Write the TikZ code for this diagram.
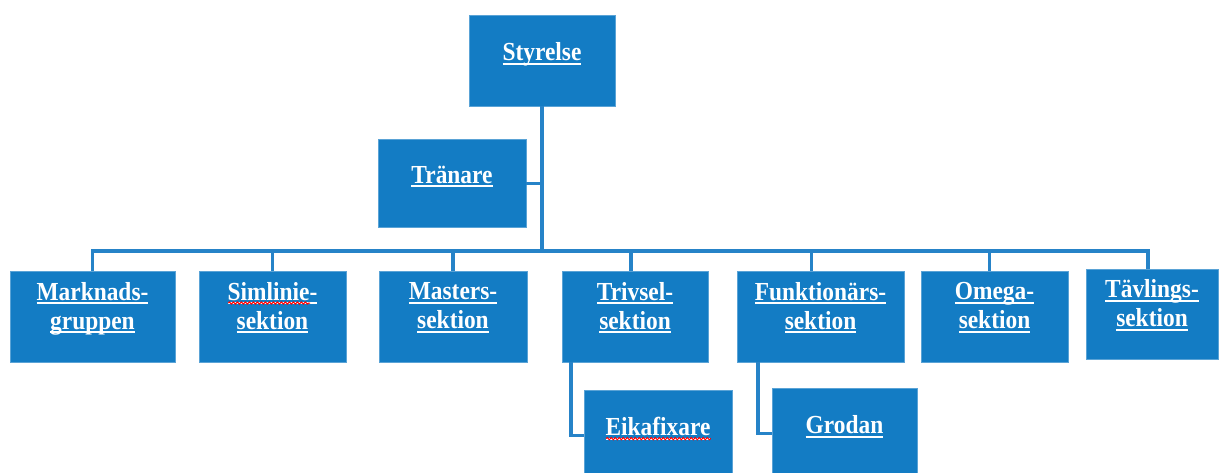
\documentclass[tikz,border=0pt]{standalone}
\usepackage{xcolor}
\usepackage{fontspec}
\setmainfont{Liberation Serif}
\newfontfamily\boxfont[FakeStretch=0.9]{Liberation Serif}
\usepackage{tikz}
\usetikzlibrary{decorations.pathmorphing}

\definecolor{orgblue}{RGB}{19,124,196}
\definecolor{lineblue}{RGB}{38,131,200}

\newcommand{\ulin}[1]{\setbox0\hbox{#1}\rlap{\rule[-4pt]{\wd0}{1.8pt}}\box0}
\newcommand{\wavy}[1]{\setbox0\hbox{#1}\rlap{\tikz[baseline=0pt]\draw[red,line width=1pt,decorate,decoration={snake,amplitude=1.1pt,segment length=4pt}] (0pt,-3pt) -- (\wd0,-3pt);}\box0}

\begin{document}
\begin{tikzpicture}[x=1pt,y=-1pt]
			\tikzstyle{box} = [fill=orgblue, draw=orgblue!70!white, thin, text=white, align=center, inner sep=0pt, minimum height=91pt, text depth=22pt, font=\boxfont\bfseries\fontsize{26}{29}\selectfont]
			\tikzstyle{single} = [text depth=18pt]
			\tikzset{edge/.style = {draw=lineblue, line width=3.5pt}}
			\useasboundingbox (0,0) rectangle (1221,472);
			\clip (0,0) rectangle (1221,472);
			
			\node[box, single, minimum width=146pt](styrelse) at (542,60.5) {\ulin{Styrelse}};
			\node[box, single, minimum width=148pt, minimum height=88pt](tranare) at (452,183.5) {\ulin{Tränare}};
			\coordinate (bar) at (542,251);
			
			\node[box, minimum width=165pt](marknads) at (92.5,316.5) {\ulin{Marknads-}\\\ulin{gruppen}};
			\node[box, minimum width=147pt](simlinie) at (272.5,316.5) {\ulin{\wavy{Simlinie}-}\\\ulin{sektion}};
			\node[box, minimum width=148pt](masters) at (453,316.5) {\ulin{Masters-}\\\ulin{sektion}};
			\node[box, minimum width=146pt](trivsel) at (635,316.5) {\ulin{Trivsel-}\\\ulin{sektion}};
			\node[box, minimum width=167pt](funktionar) at (820.5,316.5) {\ulin{Funktionärs-}\\\ulin{sektion}};
			\node[box, minimum width=147pt](omega) at (994.5,316.5) {\ulin{Omega-}\\\ulin{sektion}};
			\node[box, minimum width=132pt, minimum height=90pt](tavlings) at (1152,314) {\ulin{Tävlings-}\\\ulin{sektion}};
			
			\node[box, single, minimum width=148pt](eikafixare) at (658,435.5) {\ulin{\wavy{Eikafixare}}};
			\node[box, single, minimum width=145pt](grodan) at (844.5,433.5) {\ulin{Grodan}};
			
			\draw[edge](styrelse.south) to (bar);
			\draw[edge](tranare.east) to (tranare.east -| bar);
			\draw[edge](bar) -| (marknads.north);
			\draw[edge](bar) -| (simlinie.north);
			\draw[edge](bar) -| (masters.north);
			\draw[edge](bar) -| ([xshift=-4pt]trivsel.north);
			\draw[edge](bar) -| ([xshift=-9pt]funktionar.north);
			\draw[edge](bar) -| ([xshift=-5pt]omega.north);
			\draw[edge](bar) -| ([xshift=-4pt]tavlings.north);
			
			\draw[edge]([xshift=9pt]trivsel.south west) |- (eikafixare.west);
			\draw[edge]([xshift=21pt]funktionar.south west) |- (grodan.west);
			
			\end{tikzpicture}
\end{document}
